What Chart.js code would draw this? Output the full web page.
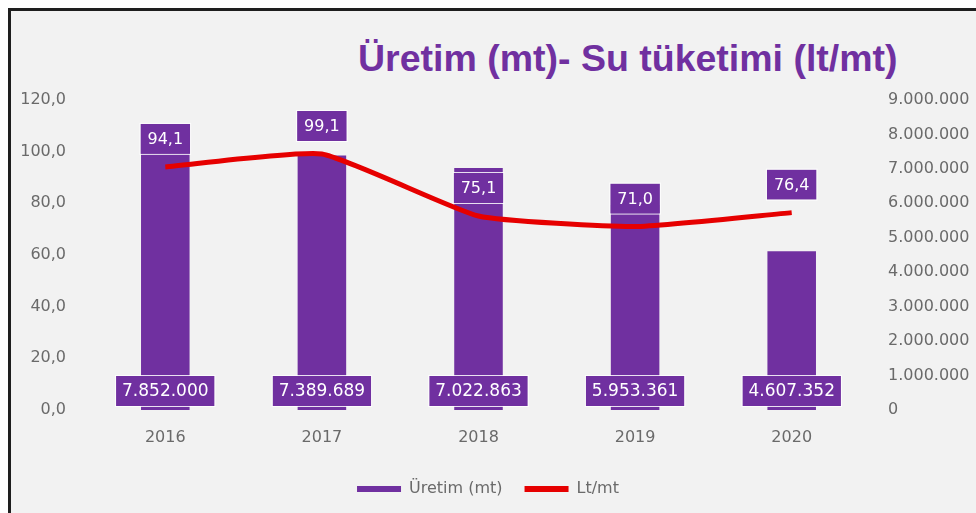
<!DOCTYPE html>
<html>
<head>
<meta charset="utf-8">
<script src="https://cdn.jsdelivr.net/npm/chart.js@4.4.1/dist/chart.umd.min.js"></script>
<style>
  body { margin: 0; background: #fff; }
  .frame {
    position: absolute; left: 8px; top: 8px; width: 968px; height: 505px;
    background: #f2f2f2; border-top: 3px solid #1e1e1e; border-left: 3px solid #1e1e1e;
    box-sizing: border-box;
  }
  .title {
    position: absolute; left: 358px; top: 40px; margin: 0;
    font: bold 37.5px "Liberation Sans", Arial, sans-serif; line-height: 1;
    color: #7030a0; white-space: nowrap;
  }
  #wrap { position: absolute; left: 0; top: 0; width: 976px; height: 513px; }
</style>
</head>
<body>
<div class="frame"></div>
<div class="title">Üretim (mt)- Su tüketimi (lt/mt)</div>
<div id="wrap"><canvas id="chart" width="976" height="513"></canvas></div>
<script>
// data
const years = ["2016", "2017", "2018", "2019", "2020"];
const uretim = [7852000, 7389689, 7022863, 5953361, 4607352];
const ltPerMt = [94.1, 99.1, 75.1, 71.0, 76.4];

const purple = "#7030a0";
const red = "#e60000";
const tickFont = { family: "DejaVu Sans", size: 16 };

function dots(n) {
  return String(Math.round(n)).replace(/\B(?=(\d{3})+(?!\d))/g, ".");
}
function comma(n) {
  return n.toFixed(1).replace(".", ",");
}

function box(ctx, text, cx, cy, font, padX, h) {
  ctx.font = font;
  const w = ctx.measureText(text).width + padX * 2;
  ctx.fillStyle = purple;
  ctx.fillRect(cx - w / 2, cy - h / 2, w, h);
  ctx.strokeStyle = "rgba(255,255,255,0.85)";
  ctx.lineWidth = 1;
  ctx.strokeRect(cx - w / 2 - 0.5, cy - h / 2 - 0.5, w + 1, h + 1);
  ctx.fillStyle = "#fff";
  ctx.textAlign = "center";
  ctx.textBaseline = "middle";
  ctx.fillText(text, cx, cy + 1);
}

const valueLabels = {
  id: "valueLabels",
  afterDatasetsDraw(chart) {
    const ctx = chart.ctx;
    const area = chart.chartArea;
    ctx.save();
    chart.getDatasetMeta(0).data.forEach((el, i) => {
      box(ctx, dots(uretim[i]), el.x, area.bottom - 19, "17px DejaVu Sans", 6, 30);
    });
    chart.getDatasetMeta(1).data.forEach((el, i) => {
      box(ctx, comma(ltPerMt[i]), el.x, el.y - 28, "16px DejaVu Sans", 7, 30);
    });
    ctx.restore();
  }
};

new Chart(document.getElementById("chart"), {
  type: "bar",
  data: {
    labels: years,
    datasets: [
      {
        label: "Üretim (mt)",
        data: uretim,
        yAxisID: "y1",
        backgroundColor: purple,
        borderColor: purple,
        barPercentage: 0.31,
        categoryPercentage: 1,
        order: 2
      },
      {
        type: "line",
        label: "Lt/mt",
        data: ltPerMt,
        yAxisID: "y",
        borderColor: red,
        backgroundColor: red,
        borderWidth: 5,
        pointRadius: 0,
        tension: 0.15,
        order: 1
      }
    ]
  },
  options: {
    responsive: false,
    animation: false,
    layout: { padding: { top: 100, bottom: 6, left: 0, right: 0 } },
    plugins: {
      legend: {
        position: "bottom",
        labels: {
          boxWidth: 44,
          boxHeight: 6,
          color: "#6a6a6a",
          font: { family: "DejaVu Sans", size: 16 },
          padding: 22,
          sort: (a, b) => a.datasetIndex - b.datasetIndex,
          generateLabels(chart) {
            const items = Chart.defaults.plugins.legend.labels.generateLabels(chart);
            items.forEach(it => { it.lineWidth = 0; });
            return items;
          }
        }
      },
      tooltip: { enabled: false }
    },
    scales: {
      x: {
        grid: { display: false },
        border: { display: false },
        ticks: { color: "#6a6a6a", font: tickFont, padding: 10 },
        afterFit(scale) { scale.height = 49; }
      },
      y: {
        position: "left",
        min: 0,
        max: 120,
        grid: { display: false },
        border: { display: false },
        ticks: {
          stepSize: 20,
          color: "#6a6a6a",
          font: tickFont,
          padding: 13,
          callback: v => comma(v)
        },
        afterFit(scale) { scale.width = 87; }
      },
      y1: {
        position: "right",
        min: 0,
        max: 9000000,
        grid: { display: false },
        border: { display: false },
        ticks: {
          stepSize: 1000000,
          color: "#6a6a6a",
          font: tickFont,
          padding: 10,
          callback: v => dots(v)
        },
        afterFit(scale) { scale.width = 106; }
      }
    }
  },
  plugins: [valueLabels]
});
</script>
</body>
</html>
